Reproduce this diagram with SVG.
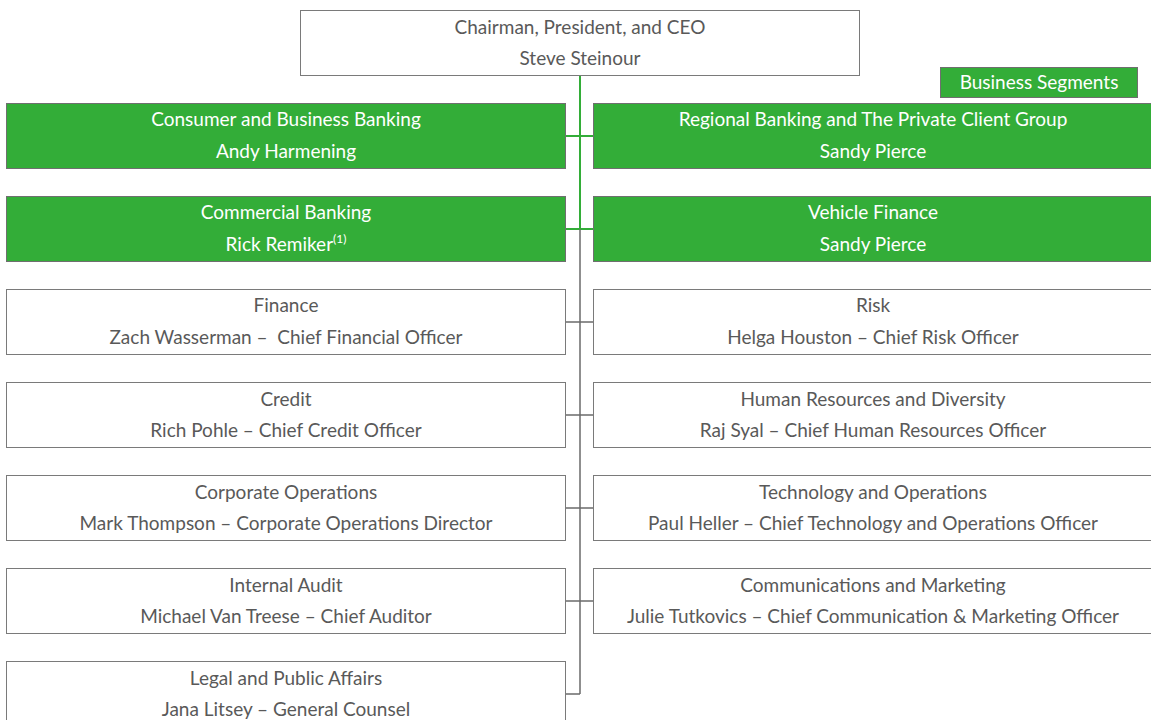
<svg xmlns="http://www.w3.org/2000/svg" width="1151" height="720" viewBox="0 0 1151 720">
<style>
.w{fill:#ffffff;stroke:#7a7a7a;stroke-width:1}
.g{fill:#33ad38;stroke:#6f6f6f;stroke-width:1}
text{font-family:Lato,"Liberation Sans",sans-serif;font-size:19px;text-anchor:middle;dominant-baseline:central}
.tw{fill:#595959}
.tg{fill:#ffffff}
.cg{stroke:#33ad38;stroke-width:2;fill:none}
.cc{stroke:#6a6a6a;stroke-width:1.5;fill:none}
</style>
<g id="connectors">
<line class="cg" x1="580" y1="75" x2="580" y2="229"/>
<line class="cg" x1="566" y1="136" x2="593" y2="136"/>
<line class="cg" x1="566" y1="229" x2="593" y2="229"/>
<line class="cc" x1="580" y1="229" x2="580" y2="694"/>
<line class="cc" x1="566" y1="322" x2="593" y2="322"/>
<line class="cc" x1="566" y1="415" x2="593" y2="415"/>
<line class="cc" x1="566" y1="508" x2="593" y2="508"/>
<line class="cc" x1="566" y1="601" x2="593" y2="601"/>
<line class="cc" x1="566" y1="694" x2="580" y2="694"/>
</g>
<g id="ceo"><rect class="w" x="300.5" y="10.5" width="559" height="65"/><text class="tw" x="580" y="26">Chairman, President, and CEO</text><text class="tw" x="580" y="57">Steve Steinour</text></g>
<g id="legend"><rect class="g" x="940.5" y="67.5" width="197" height="30"/><text class="tg" x="1039" y="81.5">Business Segments</text></g>
<g id="consumer"><rect class="g" x="6.5" y="103.5" width="559" height="65"/><text class="tg" x="286" y="118">Consumer and Business Banking</text><text class="tg" x="286" y="150">Andy Harmening</text></g>
<g id="regional"><rect class="g" x="593.5" y="103.5" width="560" height="65"/><text class="tg" x="873" y="118">Regional Banking and The Private Client Group</text><text class="tg" x="873" y="150">Sandy Pierce</text></g>
<g id="commercial"><rect class="g" x="6.5" y="196.5" width="559" height="65"/><text class="tg" x="286" y="211">Commercial Banking</text><text class="tg" x="286" y="243">Rick Remiker<tspan font-size="12" dy="-5">(1)</tspan></text></g>
<g id="vehicle"><rect class="g" x="593.5" y="196.5" width="560" height="65"/><text class="tg" x="873" y="211">Vehicle Finance</text><text class="tg" x="873" y="243">Sandy Pierce</text></g>
<g id="finance"><rect class="w" x="6.5" y="289.5" width="559" height="65"/><text class="tw" x="286" y="304">Finance</text><text class="tw" x="286" y="336" xml:space="preserve">Zach Wasserman –  Chief Financial Officer</text></g>
<g id="risk"><rect class="w" x="593.5" y="289.5" width="560" height="65"/><text class="tw" x="873" y="304">Risk</text><text class="tw" x="873" y="336">Helga Houston – Chief Risk Officer</text></g>
<g id="credit"><rect class="w" x="6.5" y="382.5" width="559" height="65"/><text class="tw" x="286" y="398">Credit</text><text class="tw" x="286" y="429">Rich Pohle – Chief Credit Officer</text></g>
<g id="hr"><rect class="w" x="593.5" y="382.5" width="560" height="65"/><text class="tw" x="873" y="398">Human Resources and Diversity</text><text class="tw" x="873" y="429">Raj Syal – Chief Human Resources Officer</text></g>
<g id="corpops"><rect class="w" x="6.5" y="475.5" width="559" height="65"/><text class="tw" x="286" y="491">Corporate Operations</text><text class="tw" x="286" y="522">Mark Thompson – Corporate Operations Director</text></g>
<g id="tech"><rect class="w" x="593.5" y="475.5" width="560" height="65"/><text class="tw" x="873" y="491">Technology and Operations</text><text class="tw" x="873" y="522">Paul Heller – Chief Technology and Operations Officer</text></g>
<g id="audit"><rect class="w" x="6.5" y="568.5" width="559" height="65"/><text class="tw" x="286" y="584">Internal Audit</text><text class="tw" x="286" y="615">Michael Van Treese – Chief Auditor</text></g>
<g id="comms"><rect class="w" x="593.5" y="568.5" width="560" height="65"/><text class="tw" x="873" y="584">Communications and Marketing</text><text class="tw" x="873" y="615">Julie Tutkovics – Chief Communication &amp; Marketing Officer</text></g>
<g id="legal"><rect class="w" x="6.5" y="661.5" width="559" height="65"/><text class="tw" x="286" y="677">Legal and Public Affairs</text><text class="tw" x="286" y="708">Jana Litsey – General Counsel</text></g>
</svg>
